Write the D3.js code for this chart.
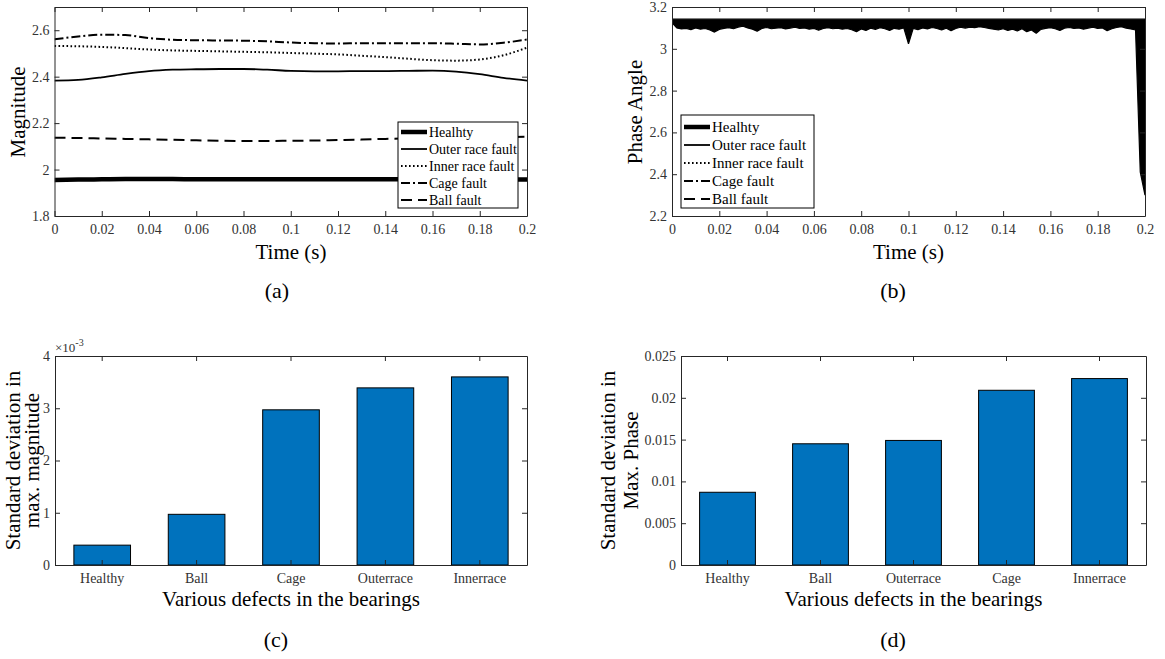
<!DOCTYPE html>
<html>
<head>
<meta charset="utf-8">
<script src="https://cdn.jsdelivr.net/npm/d3@7"></script>
<style>
  body { margin: 0; background: #fff; }
  text { font-family: "Liberation Serif", "Times New Roman", serif; }
</style>
</head>
<body>
<svg id="fig" width="1165" height="659"></svg>
<script>
// ---- data ----
const timeTicks = [0, 0.02, 0.04, 0.06, 0.08, 0.1, 0.12, 0.14, 0.16, 0.18, 0.2];
const magTicks = [1.8, 2, 2.2, 2.4, 2.6];
const phaseTicks = [2.2, 2.4, 2.6, 2.8, 3, 3.2];
const stdMagTicks = [0, 1, 2, 3, 4];          // x 10^-3
const stdPhaseTicks = [0, 0.005, 0.01, 0.015, 0.02, 0.025];

const seriesNames = ["Healhty", "Outer race fault", "Inner race fault", "Cage fault", "Ball fault"];

// (a) maximum magnitude vs time
const magTime = [0, 0.01, 0.02, 0.03, 0.04, 0.05, 0.06, 0.07, 0.08, 0.09, 0.1,
                 0.11, 0.12, 0.13, 0.14, 0.15, 0.16, 0.17, 0.18, 0.19, 0.2];
const magHealthy = [1.955, 1.957, 1.958, 1.959, 1.959, 1.959, 1.958, 1.958, 1.958, 1.958, 1.958,
                    1.958, 1.958, 1.958, 1.958, 1.958, 1.958, 1.958, 1.957, 1.957, 1.957];
const magOuter = [2.383, 2.386, 2.397, 2.412, 2.424, 2.430, 2.432, 2.433, 2.433, 2.430, 2.425,
                  2.423, 2.423, 2.424, 2.424, 2.425, 2.426, 2.422, 2.411, 2.395, 2.383];
const magInner = [2.532, 2.531, 2.528, 2.523, 2.517, 2.513, 2.511, 2.509, 2.507, 2.505, 2.502,
                  2.499, 2.496, 2.490, 2.484, 2.477, 2.471, 2.469, 2.474, 2.492, 2.525];
const magCage = [2.561, 2.573, 2.581, 2.579, 2.566, 2.559, 2.557, 2.556, 2.555, 2.552, 2.547,
                 2.544, 2.543, 2.544, 2.544, 2.544, 2.544, 2.542, 2.539, 2.546, 2.560];
const magBall = [2.137, 2.136, 2.134, 2.132, 2.130, 2.128, 2.126, 2.124, 2.123, 2.123, 2.124,
                 2.125, 2.127, 2.129, 2.132, 2.134, 2.136, 2.138, 2.139, 2.140, 2.141];

// (b) phase angle: traces overlap as one band between pi and the lower envelope
const phaseTop = 3.1416;
const phaseLow = [
  3.125, 3.100, 3.095, 3.098, 3.092, 3.100, 3.094, 3.097, 3.090, 3.080,
  3.093, 3.098, 3.101, 3.096, 3.104, 3.108, 3.100, 3.094, 3.084, 3.097,
  3.102, 3.096, 3.099, 3.101, 3.095, 3.099, 3.103, 3.097, 3.100, 3.094,
  3.098, 3.089, 3.097, 3.101, 3.096, 3.099, 3.094, 3.097, 3.091, 3.082,
  3.095, 3.088, 3.099, 3.093, 3.101, 3.096, 3.088, 3.098, 3.094, 3.100,
  3.024, 3.098, 3.092, 3.100, 3.095, 3.102, 3.097, 3.090, 3.099, 3.086,
  3.097, 3.103, 3.099, 3.104, 3.101, 3.106, 3.102, 3.098, 3.094, 3.090,
  3.096, 3.088, 3.094, 3.085, 3.096, 3.082, 3.090, 3.074, 3.093, 3.098,
  3.101, 3.096, 3.088, 3.099, 3.102, 3.097, 3.100, 3.094, 3.099, 3.103,
  3.097, 3.100, 3.087, 3.096, 3.102, 3.106, 3.099, 3.095, 3.090, 2.410,
  2.300];
const phaseTime = phaseLow.map((d, i) => i * 0.002);

// (c) and (d) bars
const defectsC = ["Healthy", "Ball", "Cage", "Outerrace", "Innerrace"];
const stdMagnitude = [0.38, 0.97, 2.97, 3.39, 3.60];   // x 10^-3
const defectsD = ["Healthy", "Ball", "Outerrace", "Cage", "Innerrace"];
const stdPhase = [0.0087, 0.0145, 0.0149, 0.0209, 0.0223];

// ---- drawing ----
const svg = d3.select("#fig");
const axisColor = "#262626";
const fmt = d => String(+d.toFixed(4));
const lineStyles = [
  {w: 4.5, dash: null},
  {w: 1.8, dash: null},
  {w: 2, dash: "1.6,2.4"},
  {w: 2, dash: "9,3,2,3"},
  {w: 2, dash: "11,6"}
];

let styleAxis = (sel) => {
  sel.attr("font-family", "Liberation Serif, Times New Roman, serif")
     .attr("font-size", 14)
     .attr("color", axisColor);
  sel.selectAll("text").attr("fill", "#333");
};

let drawFrame = (x, y, xVals, yVals, xFmt, yFmt) => {
  const [x0, x1] = x.range();
  const [yb, yt] = y.range();
  const g = svg.append("g");
  const bx = d3.axisBottom(x).tickSizeInner(-5).tickSizeOuter(0).tickPadding(8.5).tickFormat(xFmt);
  const tx = d3.axisTop(x).tickSizeInner(-5).tickSizeOuter(0).tickFormat("");
  if (xVals) { bx.tickValues(xVals); tx.tickValues(xVals); }
  g.append("g").attr("transform", `translate(0,${yb})`).call(bx).call(styleAxis);
  g.append("g").attr("transform", `translate(0,${yt})`).call(tx).call(styleAxis);
  g.append("g").attr("transform", `translate(${x0},0)`)
    .call(d3.axisLeft(y).tickValues(yVals).tickSizeInner(-5).tickSizeOuter(0).tickPadding(5).tickFormat(yFmt))
    .call(styleAxis);
  g.append("g").attr("transform", `translate(${x1},0)`)
    .call(d3.axisRight(y).tickValues(yVals).tickSizeInner(-5).tickSizeOuter(0).tickFormat(""))
    .call(styleAxis);
  return g;
};

let drawLegend = (x0, y0, w, h, rowY, rowStep, fs) => {
  const g = svg.append("g");
  g.append("rect").attr("x", x0).attr("y", y0).attr("width", w).attr("height", h)
    .attr("fill", "#fff").attr("stroke", "#000").attr("stroke-width", 1);
  seriesNames.forEach((name, i) => {
    const yy = rowY + i * rowStep;
    g.append("line").attr("x1", x0 + 3).attr("x2", x0 + 29).attr("y1", yy).attr("y2", yy)
      .attr("stroke", "#000").attr("stroke-width", lineStyles[i].w)
      .attr("stroke-dasharray", lineStyles[i].dash);
    g.append("text").attr("x", x0 + 31).attr("y", yy).attr("dy", "0.34em")
      .attr("font-size", fs).attr("fill", "#000").text(name);
  });
};

let yTitle = (lines, xs, cy) => {
  lines.forEach((t, i) => {
    svg.append("text").attr("transform", `translate(${xs[i]},${cy}) rotate(-90)`)
      .attr("text-anchor", "middle").attr("font-size", 21).attr("fill", "#000").text(t);
  });
};
let xTitle = (t, cx, y) => svg.append("text").attr("x", cx).attr("y", y)
  .attr("text-anchor", "middle").attr("font-size", 21).attr("fill", "#000").text(t);
let caption = (t, cx, y) => svg.append("text").attr("x", cx).attr("y", y)
  .attr("text-anchor", "middle").attr("font-size", 22).attr("fill", "#000").text(t);

// clip paths
const defs = svg.append("defs");
defs.append("clipPath").attr("id", "clipA").append("rect").attr("x", 54.5).attr("y", 7).attr("width", 472.5).attr("height", 209);
defs.append("clipPath").attr("id", "clipB").append("rect").attr("x", 672).attr("y", 7).attr("width", 473).attr("height", 209);

// ---- (a) ----
const xA = d3.scaleLinear().domain([0, 0.2]).range([54.5, 527]);
const yA = d3.scaleLinear().domain([1.8, 2.7]).range([216, 7]);
const magSeries = [magHealthy, magOuter, magInner, magCage, magBall];
const lineA = d3.line().x((d, i) => xA(magTime[i])).y(d => yA(d)).curve(d3.curveMonotoneX);
svg.append("g").attr("clip-path", "url(#clipA)")
  .selectAll("path").data(magSeries).enter().append("path")
  .attr("d", d => lineA(d))
  .attr("fill", "none").attr("stroke", "#000")
  .attr("stroke-width", (d, i) => lineStyles[i].w)
  .attr("stroke-dasharray", (d, i) => lineStyles[i].dash);
drawFrame(xA, yA, timeTicks, magTicks, fmt, fmt);
drawLegend(398, 122, 120, 86, 132, 17, 14);
yTitle(["Magnitude"], [25], 112);
xTitle("Time (s)", 291, 259);
caption("(a)", 277, 298);

// ---- (b) ----
const xB = d3.scaleLinear().domain([0, 0.2]).range([672, 1145]);
const yB = d3.scaleLinear().domain([2.2, 3.2]).range([216, 7]);
const areaB = d3.area().x((d, i) => xB(phaseTime[i])).y0(d => yB(d)).y1(() => yB(phaseTop));
svg.append("g").attr("clip-path", "url(#clipB)")
  .append("path").datum(phaseLow)
  .attr("d", areaB)
  .attr("fill", "#000").attr("stroke", "#000").attr("stroke-width", 1.2).attr("stroke-linejoin", "bevel");
drawFrame(xB, yB, timeTicks, phaseTicks, fmt, fmt);
drawLegend(681, 115, 133, 93, 127, 18, 15);
yTitle(["Phase Angle"], [642], 112);
xTitle("Time (s)", 908.5, 259);
caption("(b)", 893, 298);

// ---- (c) ----
const xC = d3.scaleBand().domain(defectsC).range([55, 527]).paddingInner(0.4).paddingOuter(0.2);
const yC = d3.scaleLinear().domain([0, 4]).range([565, 356]);
svg.append("g").selectAll("rect").data(stdMagnitude).enter().append("rect")
  .attr("x", (d, i) => xC(defectsC[i]))
  .attr("y", d => yC(d))
  .attr("width", xC.bandwidth())
  .attr("height", d => yC(0) - yC(d))
  .attr("fill", "#0072BD").attr("stroke", "#000").attr("stroke-width", 1);
drawFrame(xC, yC, null, stdMagTicks, d => d, fmt);
const expC = svg.append("text").attr("x", 55).attr("y", 352).attr("font-size", 13).attr("fill", "#333");
expC.append("tspan").text("\u00d710");
expC.append("tspan").attr("dy", -6).attr("font-size", 10).text("-3");
yTitle(["Standard deviation in", "max. magnitude"], [20, 39], 460.5);
xTitle("Various defects in the bearings", 291, 606);
caption("(c)", 276, 647);

// ---- (d) ----
const xD = d3.scaleBand().domain(defectsD).range([681, 1146]).paddingInner(0.4).paddingOuter(0.2);
const yD = d3.scaleLinear().domain([0, 0.025]).range([565, 356]);
svg.append("g").selectAll("rect").data(stdPhase).enter().append("rect")
  .attr("x", (d, i) => xD(defectsD[i]))
  .attr("y", d => yD(d))
  .attr("width", xD.bandwidth())
  .attr("height", d => yD(0) - yD(d))
  .attr("fill", "#0072BD").attr("stroke", "#000").attr("stroke-width", 1);
drawFrame(xD, yD, null, stdPhaseTicks, d => d, fmt);
yTitle(["Standard deviation in", "Max. Phase"], [615, 638], 460.5);
xTitle("Various defects in the bearings", 913.5, 606);
caption("(d)", 893, 647);
</script>
</body>
</html>
